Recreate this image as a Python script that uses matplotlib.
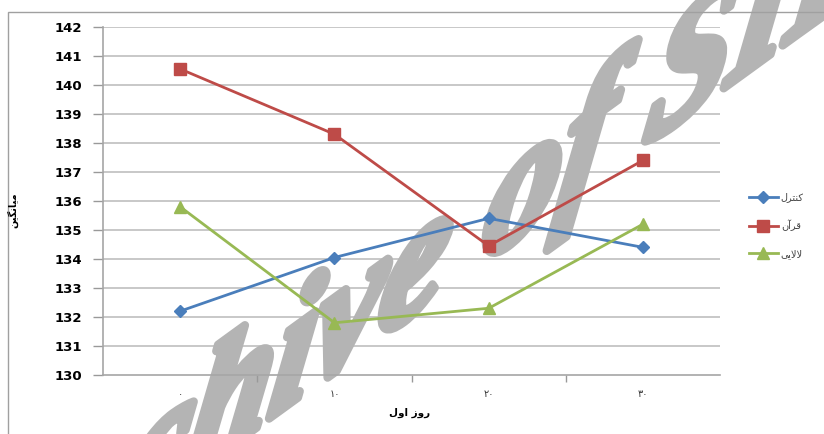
import matplotlib
matplotlib.use('Agg')
import matplotlib.pyplot as plt
from matplotlib.patches import Rectangle
from matplotlib.patheffects import AbstractPathEffect
from matplotlib.transforms import Affine2D
import numpy as np

# Day labels (Persian digits) and group means
days = ['\u06f0', '\u06f1\u06f0', '\u06f2\u06f0', '\u06f3\u06f0']
control = [132.2, 134.05, 135.4, 134.4]
quran = [140.55, 138.3, 134.45, 137.4]
lullaby = [135.8, 131.8, 132.3, 135.2]
yticks = list(range(130, 143))

# Arabic-script labels written in presentation forms, visual order (no shaping in matplotlib)
lbl_control = '\ufedd\ufeae\ufe98\ufee8\ufb90'      # کنترل
lbl_quran = '\ufee5\ufe81\ufeae\ufed7'              # قرآن
lbl_lullaby = '\ufbfd\ufbfe\ufefb\ufefb'            # لالایی
ylabel = '\ufee6\ufbff\ufb95\ufee7\ufe8e\ufbff\ufee3'  # میانگین
xlabel = '\ufedd\ufeed\ufe8d \ufeaf\ufeed\ufead'     # روز اول


class Slant(AbstractPathEffect):
    """Shear rotated text in its own frame and draw it fattened by an outline."""

    def __init__(self, angle, shear_mtx, center, lw):
        super().__init__()
        self.angle = angle
        self.m = np.eye(3)
        self.m[:2, :2] = shear_mtx
        self.center = center
        self.lw = lw

    def draw_path(self, renderer, gc, tpath, affine, rgbFace=None):
        cx, cy = self.center
        extra = (Affine2D().translate(-cx, -cy).rotate_deg(-self.angle)
                 + Affine2D(self.m)
                 + Affine2D().rotate_deg(self.angle).translate(cx, cy))
        gc0 = renderer.new_gc()
        gc0.copy_properties(gc)
        gc0.set_linewidth(self.lw)
        gc0.set_foreground(rgbFace)
        gc0.set_joinstyle('round')
        renderer.draw_path(gc0, tpath, affine + extra, rgbFace)
        gc0.restore()


plt.rcParams['font.family'] = ['DejaVu Sans']

fig = plt.figure(figsize=(8.24, 4.34), dpi=100)
ax = fig.add_axes([0.125, 0.136, 0.749, 0.802])

x = list(range(len(days)))
ax.plot(x, control, color='#4a7ebb', lw=2.0, marker='D', ms=6.5, label=lbl_control, zorder=4)
ax.plot(x, quran, color='#be4b48', lw=2.0, marker='s', ms=8, label=lbl_quran, zorder=4)
ax.plot(x, lullaby, color='#98b954', lw=2.0, marker='^', ms=8.5, label=lbl_lullaby, zorder=4)

ax.set_xlim(-0.5, 3.5)
ax.set_ylim(yticks[0], yticks[-1])
ax.set_yticks(yticks)
for yv in yticks[1:]:
    ax.axhline(yv, color='#c4c4c4', lw=1.3, zorder=0.8)

ax.set_xticks(x)
ax.set_xticklabels(days, fontsize=7, color='#333333')
ax.set_xticks([0.5, 1.5, 2.5], minor=True)
ax.tick_params(axis='x', which='major', length=0, pad=10)
ax.tick_params(axis='x', which='minor', length=5, color='#999999', width=1)
ax.tick_params(axis='y', length=7, color='#999999', width=1, labelsize=9.5, pad=8)
for t in ax.get_yticklabels():
    t.set_fontweight('bold')

for s in ['top', 'right']:
    ax.spines[s].set_visible(False)
for s in ['left', 'bottom']:
    ax.spines[s].set_color('#a6a6a6')
    ax.spines[s].set_linewidth(1.2)

fig.text(410 / 824, 1 - 413 / 434, xlabel, ha='center', va='center', fontsize=7.5, fontweight='bold')
fig.text(13 / 824, 1 - 210 / 434, ylabel, ha='center', va='center', rotation=90, fontsize=7, fontweight='bold')

leg = ax.legend(loc='center left', bbox_to_anchor=(1.040, 0.43), borderaxespad=0, frameon=False,
                fontsize=7, handlelength=3.0, labelspacing=1.8, handletextpad=0.3)
for t in leg.get_texts():
    t.set_color('#444444')

# chart border
fig.add_artist(Rectangle((8 / 824, -0.1), 1.2, 1.1 - 12 / 434, transform=fig.transFigure,
                         fill=False, edgecolor='#a0a0a0', lw=1.0))

# watermark: sits above the gridlines, below axis labels and the data lines
rot = 36
d = np.radians(44)
shear = [[1.0, 1.0 * np.cos(d)],
         [0.0, 1.0 * np.sin(d)]]
wm_x, wm_y = 424, 128  # pixels from bottom-left
ax.text(wm_x / 824, wm_y / 434, 'Archive of SID', transform=fig.transFigure,
        ha='center', va='baseline', rotation=rot, rotation_mode='anchor',
        fontsize=134, family='Liberation Serif', fontweight='bold', fontstyle='italic',
        color='#b4b4b4', zorder=1.2, clip_on=False,
        path_effects=[Slant(rot, shear, (wm_x, wm_y), 6.0)])

fig.savefig('out.png', dpi=100, facecolor='white')
